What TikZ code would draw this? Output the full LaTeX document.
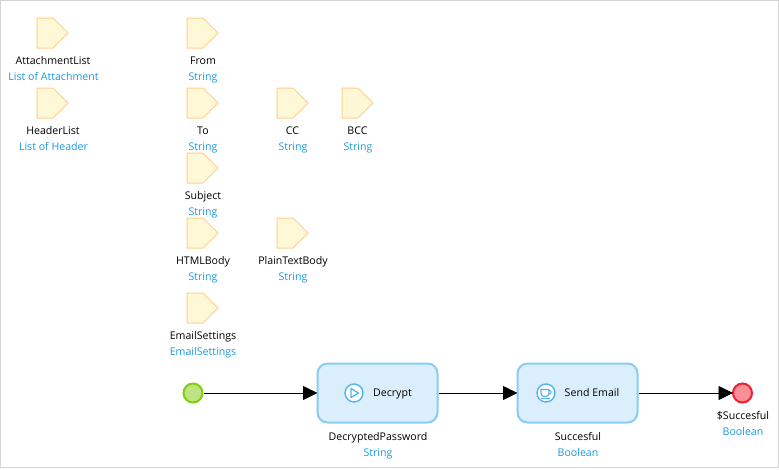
\documentclass[tikz,border=0pt]{standalone}
\usepackage{fontspec}
\setmainfont{Open Sans}
\usetikzlibrary{arrows.meta,shapes.symbols}
\definecolor{parfill}{HTML}{FFF8D6}
\definecolor{pardraw}{HTML}{FFD08C}
\definecolor{actfill}{HTML}{DAEEFB}
\definecolor{actdraw}{HTML}{88CDF3}
\definecolor{typeblue}{HTML}{1A98DC}
\definecolor{icondraw}{HTML}{55B5EE}
\definecolor{startfill}{HTML}{BDE384}
\definecolor{startdraw}{HTML}{7FCF10}
\definecolor{endfill}{HTML}{F98F97}
\definecolor{enddraw}{HTML}{EF2030}
\definecolor{framegray}{HTML}{D4D4D4}

\begin{document}
\begin{tikzpicture}[
        x=1pt, y=-1pt,
        param/.style={
        signal, signal to=east, signal pointer angle=90,
        draw=pardraw, fill=parfill, line width=1pt,
        inner sep=0pt, minimum width=31pt, minimum height=30pt},
        argname/.style={font=\fontsize{10.6}{12}\selectfont, inner sep=0pt, text height=8pt, text depth=2pt},
        argtype/.style={argname, text=typeblue},
        activity/.style={
        rectangle, rounded corners=10pt,
        draw=actdraw, fill=actfill, line width=2pt,
        minimum width=120pt, minimum height=59pt},
        icon/.style={
        circle, draw=icondraw, fill=white, line width=1.4pt,
        inner sep=0pt, minimum size=18pt},
        flow/.style={-{Triangle[length=14.5pt,width=14pt]}, line width=0.8pt, black, shorten >=-1pt},
        ]

        \useasboundingbox (0,0) rectangle (779,469);
        \draw[framegray, line width=1pt] (0.5,0.5) rectangle (778.5,467.5);

        % input parameters
        \node (attachlist) [param] at (45,33){};
        \node (attachname) [argname] at (53,61){AttachmentList};
        \node (attachtype) [argtype] at (53.5,77){List of Attachment};
        \node (headerlist) [param] at (45,103){};
        \node (headername) [argname] at (53,131){HeaderList};
        \node (headertype) [argtype] at (53.5,147){List of Header};

        \node (from) [param] at (195,33){};
        \node (fromname) [argname] at (203,61){From};
        \node (fromtype) [argtype] at (203,77){String};
        \node (to) [param] at (195,103){};
        \node (toname) [argname] at (203,131){To};
        \node (totype) [argtype] at (203,147){String};
        \node (cc) [param] at (285,103){};
        \node (ccname) [argname] at (292.5,131){CC};
        \node (cctype) [argtype] at (293,147){String};
        \node (bcc) [param] at (350,103){};
        \node (bccname) [argname] at (357.5,131){BCC};
        \node (bcctype) [argtype] at (358,147){String};
        \node (subject) [param] at (195,168){};
        \node (subjectname) [argname] at (203,196){Subject};
        \node (subjecttype) [argtype] at (203,212){String};
        \node (html) [param] at (195,233){};
        \node (htmlname) [argname] at (203,261){HTMLBody};
        \node (htmltype) [argtype] at (203,277){String};
        \node (plain) [param] at (285,233){};
        \node (plainname) [argname] at (293,261){PlainTextBody};
        \node (plaintype) [argtype] at (293,277){String};
        \node (settings) [param] at (195,308){};
        \node (settingsname) [argname] at (203,336){EmailSettings};
        \node (settingstype) [argtype] at (203,352){EmailSettings};

        % flow
        \node (start) [circle, draw=startdraw, fill=startfill, line width=2pt, inner sep=0pt, minimum size=19pt] at (193,393){};
        \node (decrypt) [activity] at (377.5,393){};
        \node (send) [activity] at (577.5,393){};
        \node (stop) [circle, draw=enddraw, fill=endfill, line width=2pt, inner sep=0pt, minimum size=19pt] at (742.5,393){};

        \draw[flow] (start) -- (decrypt);
        \draw[flow] (decrypt) -- (send);
        \draw[flow] (send) -- (stop);

        \node (playicon) [icon] at (354,393){};
        \draw[icondraw, line width=1.3pt, line join=round] (351,388.5) -- (358.5,393) -- (351,397.5) -- cycle;
        \node (decrypttext) [argname] at (392.5,393){Decrypt};
        \node (cupicon) [icon] at (546,393){};
        \draw[icondraw, line width=1.2pt, line join=round] (541,389.5) -- (549,389.5) -- (549,393) .. controls (549,396) and (547.5,396.5) .. (545,396.5) .. controls (542.5,396.5) and (541,396) .. (541,393) -- cycle;
        \draw[icondraw, line width=1pt] (549,390.5) .. controls (552,390) and (552,394) .. (548.5,394.5);
        \draw[icondraw, line width=1pt] (540.5,398.5) -- (550,398.5);
        \node (sendtext) [argname] at (592,393){Send Email};

        % results
        \node (decryptname) [argname] at (378,437){DecryptedPassword};
        \node (decrypttype) [argtype] at (378,453){String};
        \node (sendname) [argname] at (578,437){Succesful};
        \node (sendtype) [argtype] at (578,453){Boolean};
        \node (stopname) [argname] at (743,416){\$Succesful};
        \node (stoptype) [argtype] at (743,432){Boolean};
\end{tikzpicture}
\end{document}
